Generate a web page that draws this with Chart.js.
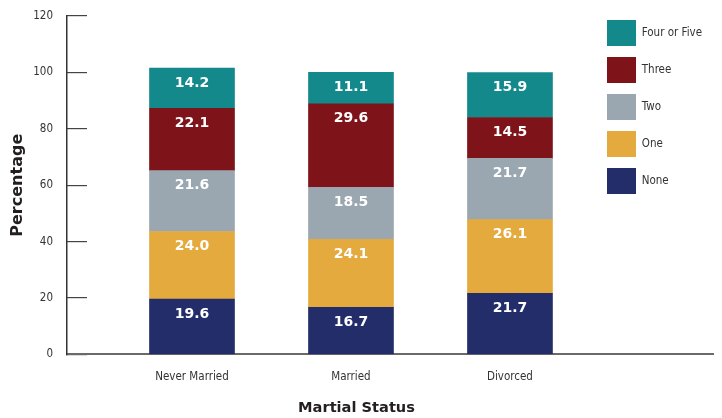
<!DOCTYPE html>
<html><head><meta charset="utf-8">
<script src="https://cdn.jsdelivr.net/npm/chart.js@4.4.0/dist/chart.umd.min.js"></script>
<style>html,body{margin:0;padding:0;background:#fff}#wrap{width:722px;height:418px}</style>
</head><body><div id="wrap"><canvas id="c" width="722" height="418"></canvas></div>
<script>
const categories = ['Never Married', 'Married', 'Divorced'];
const categoryPositions = [1, 2, 3];
const seriesNames = ['None', 'One', 'Two', 'Three', 'Four or Five'];
const noneVals = [19.6, 16.7, 21.7];
const oneVals = [24.0, 24.1, 26.1];
const twoVals = [21.6, 18.5, 21.7];
const threeVals = [22.1, 29.6, 14.5];
const fourFiveVals = [14.2, 11.1, 15.9];
const yTicks = [0, 20, 40, 60, 80, 100, 120];
const seriesColors = ['#232d69', '#e5aa3d', '#9aa7b0', '#7e1419', '#13898b'];
const seriesValues = [noneVals, oneVals, twoVals, threeVals, fourFiveVals];

const narrow = '"Liberation Sans Narrow", "DejaVu Sans Condensed", sans-serif';

const datasets = seriesNames.map((name, s) => ({
  label: name,
  data: categoryPositions.map((x, i) => ({x: x, y: seriesValues[s][i]})),
  backgroundColor: seriesColors[s],
  borderWidth: 0,
  barThickness: 85
}));

const barLabels = {
  id: 'barLabels',
  afterDatasetsDraw(chart) {
    const ctx = chart.ctx;
    ctx.save();
    ctx.font = 'bold 14px "DejaVu Sans"';
    ctx.fillStyle = '#ffffff';
    ctx.textAlign = 'center';
    ctx.textBaseline = 'middle';
    chart.data.datasets.forEach((ds, i) => {
      const meta = chart.getDatasetMeta(i);
      meta.data.forEach((el, j) => {
        ctx.fillText(ds.data[j].y.toFixed(1), el.x, el.y + 15);
      });
    });
    ctx.restore();
  }
};

const legendPlace = {
  id: 'legendPlace',
  afterLayout(chart) {
    const l = chart.legend;
    if (!l) return;
    l.left = 596;
    l.right = l.left + l.width;
    l.top = 9;
    l.bottom = l.top + 340;
  }
};

new Chart(document.getElementById('c'), {
  type: 'bar',
  data: {datasets: datasets},
  plugins: [barLabels, legendPlace],
  options: {
    responsive: false,
    animation: false,
    events: [],
    layout: {padding: {top: 16, right: 9, left: 0, bottom: 0}},
    plugins: {
      legend: {
        position: 'chartArea',
        fullSize: false,
        align: 'start',
        reverse: true,
        labels: {
          boxWidth: 29, boxHeight: 26, padding: 11, color: '#333333',
          font: {family: narrow, size: 11.5}
        }
      },
      title: {
        display: true, text: 'Martial Status', position: 'bottom',
        color: '#231f20', font: {family: '"DejaVu Sans"', size: 14.6, weight: 'bold'},
        padding: {top: 0, bottom: 1}
      },
      tooltip: {enabled: false}
    },
    scales: {
      x: {
        type: 'linear', stacked: true, offset: false, min: 0.2138, max: 4.277,
        afterBuildTicks: s => { s.ticks = categoryPositions.map(v => ({value: v})); },
        afterFit: s => { s.height = 45; },
        grid: {display: false, drawTicks: false},
        border: {display: true, color: '#6a6a6a', width: 2},
        ticks: {
          padding: 16, color: '#333333', maxRotation: 0, autoSkip: false,
          font: {family: narrow, size: 11.5},
          callback: v => { const k = categoryPositions.indexOf(v); return k >= 0 ? categories[k] : ''; }
        }
      },
      y: {
        stacked: true, min: 0, max: 120,
        afterBuildTicks: s => { s.ticks = yTicks.map(v => ({value: v})); },
        afterFit: s => { s.width = 67; s.paddingTop = 7; s.paddingBottom = 7; },
        border: {display: true, color: '#333333', width: 1.5},
        grid: {drawOnChartArea: false, drawTicks: true, tickLength: -20, color: '#444444', lineWidth: 1.2},
        ticks: {padding: 34, color: '#333333', font: {family: narrow, size: 11.5}},
        title: {
          display: true, text: 'Percentage', color: '#231f20',
          font: {family: '"DejaVu Sans"', size: 16, weight: 'bold'},
          padding: {top: 8, bottom: 0}
        }
      }
    }
  }
});
</script>
</body></html>
